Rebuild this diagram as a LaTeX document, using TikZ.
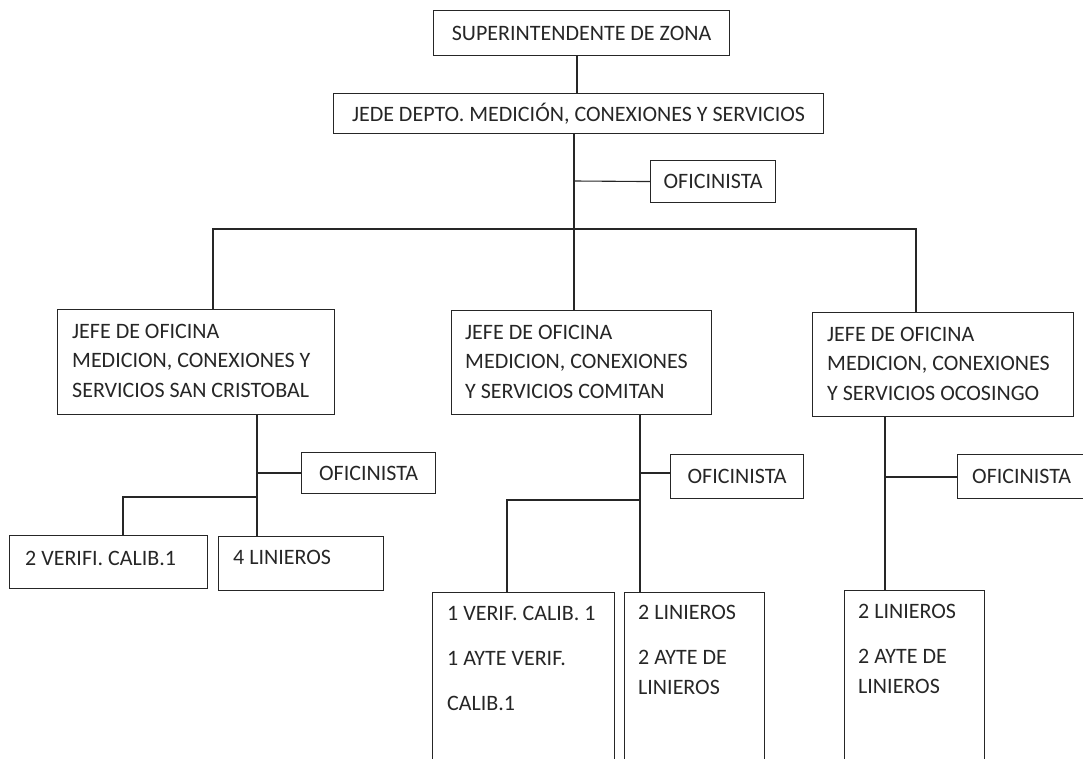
\documentclass[tikz,border=0pt]{standalone}
\usepackage{fontspec}
\setmainfont{Carlito}
\begin{document}
\begin{tikzpicture}[x=1pt,y=-1pt,
  box/.style={draw=black!85, line width=1.1pt, rectangle, inner sep=0pt, anchor=north west},
  txt/.style={inner sep=0pt, anchor=base west, align=left, text=black!85},
  ctxt/.style={inner sep=0pt, text=black!85},
  conn/.style={draw=black!85, line width=1.1pt}]
\useasboundingbox (0,0) rectangle (1083,759);
\clip (0,0) rectangle (1083,759);
\fontsize{22}{29.5}\selectfont
% top level
\node[box, minimum width=296pt, minimum height=45pt] (sup) at (433,10) {};
\node[ctxt] (supt) at (sup.center) {SUPERINTENDENTE DE ZONA};
\node[box, minimum width=490pt, minimum height=40pt] (jede) at (333,93) {};
\node[ctxt] (jedet) at (jede.center) {JEDE DEPTO. MEDICIÓN, CONEXIONES Y SERVICIOS};
\node[box, minimum width=125pt, minimum height=42pt] (of0) at (650,160) {};
\node[ctxt] (of0t) at (of0.center) {OFICINISTA};
% second level (base anchor = baseline of last line)
\node[box, minimum width=277pt, minimum height=105pt] (jL) at (57,309) {};
\node[txt] (jLt) at (72,397) {JEFE DE OFICINA\\MEDICION, CONEXIONES Y\\SERVICIOS SAN CRISTOBAL};
\node[box, minimum width=260pt, minimum height=104pt] (jM) at (451,310) {};
\node[txt] (jMt) at (465,398) {JEFE DE OFICINA\\MEDICION, CONEXIONES\\Y SERVICIOS COMITAN};
\node[box, minimum width=261pt, minimum height=104pt] (jR) at (812,312) {};
\node[txt] (jRt) at (827,400) {JEFE DE OFICINA\\MEDICION, CONEXIONES\\Y SERVICIOS OCOSINGO};
% oficinistas
\node[box, minimum width=134pt, minimum height=41pt] (ofL) at (301,452) {};
\node[ctxt] (ofLt) at (ofL.center) {OFICINISTA};
\node[box, minimum width=133pt, minimum height=44pt] (ofM) at (670,454) {};
\node[ctxt] (ofMt) at (ofM.center) {OFICINISTA};
\node[box, minimum width=140pt, minimum height=44pt] (ofR) at (957,454) {};
\node[ctxt, anchor=west] (ofRt) at (972,476) {OFICINISTA};
% bottom level
\node[box, minimum width=198pt, minimum height=53pt] (vL) at (9,535) {};
\node[txt] (vLt) at (25,565) {2 VERIFI. CALIB.1};
\node[box, minimum width=165pt, minimum height=54pt] (lL) at (218,536) {};
\node[txt] (lLt) at (233,564) {4 LINIEROS};
\node[box, minimum width=182pt, minimum height=200pt] (vM) at (432,592) {};
\node[txt] (vMt) at (447,710) {1 VERIF. CALIB. 1\\[15.5pt]1 AYTE VERIF.\\[15.5pt]CALIB.1};
\node[box, minimum width=140pt, minimum height=200pt] (lM) at (624,592) {};
\node[txt] (lMt) at (638,694) {2 LINIEROS\\[15.5pt]2 AYTE DE\\LINIEROS};
\node[box, minimum width=140pt, minimum height=200pt] (lR) at (844,590) {};
\node[txt] (lRt) at (858,693) {2 LINIEROS\\[15.5pt]2 AYTE DE\\LINIEROS};
% junction points
\coordinate (t0) at (574,181);
\coordinate (bl) at (213,229);
\coordinate (br) at (916,229);
\coordinate (tL) at (257,473);
\coordinate (cL) at (123,497);
\coordinate (tM) at (640,473);
\coordinate (cM) at (507,500);
\coordinate (tR) at (885,477);
% connectors
\draw[conn] (sup.south -| 577,0) -- (jede.north -| 577,0);
\draw[conn] (t0 |- jede.south) -- (t0 |- jM.north);
\draw[conn] (t0) -- (of0.west);
\draw[conn] (bl |- jL.north) -- (bl) -- (br) -- (br |- jR.north);
\draw[conn] (tL |- jL.south) -- (tL |- lL.north);
\draw[conn] (tL) -- (tL -| ofL.west);
\draw[conn] (cL -| tL) -- (cL) -- (cL |- vL.north);
\draw[conn] (tM |- jM.south) -- (tM |- lM.north);
\draw[conn] (tM) -- (tM -| ofM.west);
\draw[conn] (cM -| tM) -- (cM) -- (cM |- vM.north);
\draw[conn] (tR |- jR.south) -- (tR |- lR.north);
\draw[conn] (tR) -- (tR -| ofR.west);
\end{tikzpicture}
\end{document}
